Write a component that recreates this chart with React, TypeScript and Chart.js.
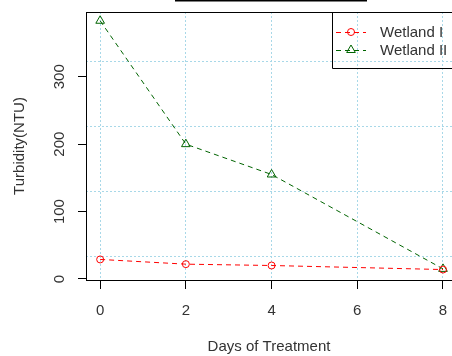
import React, { useEffect, useRef } from 'react';
import { Chart, registerables } from 'chart.js';

Chart.register(...registerables);

const days = [0, 2, 4, 8];
const wetland1 = [29, 22, 20, 14];
const wetland2 = [383, 200, 155, 15];
const seriesLabels = ['Wetland I', 'Wetland II'];
const xTicks = [0, 2, 4, 6, 8];
const yTicks = [0, 100, 200, 300];
const yGrid = [34, 130, 226, 322];
const xTitle = 'Days of Treatment';
const yTitle = 'Turbidity(NTU)';

const FONT = '"Liberation Sans", Arial, Helvetica, sans-serif';
const TEXT = '#333333';
const RED = '#ff0000';
const GREEN = '#006400';
const GRID = '#a8d8e8';

const framePlugin = {
  id: 'rframe',
  afterDraw(chart: any) {
    const { ctx, chartArea } = chart;
    ctx.save();
    // top frame line
    ctx.strokeStyle = '#000';
    ctx.lineWidth = 1;
    ctx.beginPath();
    ctx.moveTo(chartArea.left, chartArea.top + 0.5);
    ctx.lineTo(chart.width + 5, chartArea.top + 0.5);
    ctx.stroke();
    // cut-off title box edge
    ctx.fillStyle = '#000';
    ctx.fillRect(175, 0, 192, 1.5);

    // legend
    const left = 332;
    const top = chartArea.top;
    const h = 56;
    ctx.beginPath();
    ctx.moveTo(left + 0.5, top);
    ctx.lineTo(left + 0.5, top + h + 0.5);
    ctx.lineTo(chart.width + 5, top + h + 0.5);
    ctx.stroke();
    chart.data.datasets.forEach((ds: any, i: number) => {
      const y = top + 20 + i * 18;
      ctx.strokeStyle = ds.borderColor;
      ctx.lineWidth = 1;
      ctx.setLineDash([5, 4]);
      ctx.beginPath();
      ctx.moveTo(left + 4, y + 0.5);
      ctx.lineTo(left + 34, y + 0.5);
      ctx.stroke();
      ctx.setLineDash([]);
      const cx = left + 19;
      ctx.beginPath();
      if (ds.pointStyle === 'triangle') {
        const r = 5;
        ctx.moveTo(cx, y - r);
        ctx.lineTo(cx + r * 0.866, y + r * 0.5);
        ctx.lineTo(cx - r * 0.866, y + r * 0.5);
        ctx.closePath();
      } else {
        ctx.arc(cx, y, 3.5, 0, Math.PI * 2);
      }
      ctx.stroke();
      ctx.fillStyle = TEXT;
      ctx.font = `15px ${FONT}`;
      ctx.textAlign = 'left';
      ctx.textBaseline = 'middle';
      ctx.fillText(ds.label, left + 48, y + 1);
    });
    ctx.restore();
  },
};

export default function App() {
  const ref = useRef<HTMLCanvasElement>(null);
  useEffect(() => {
    if (!ref.current) return;
    const chart = new Chart(ref.current, {
      type: 'line',
      data: {
        datasets: [
          {
            label: seriesLabels[0],
            data: days.map((d, i) => ({ x: d, y: wetland1[i] })),
            borderColor: RED,
            backgroundColor: 'transparent',
            borderWidth: 1,
            borderDash: [5, 4],
            pointStyle: 'circle',
            pointRadius: 3.5,
            pointBorderWidth: 1,
            pointBorderColor: RED,
            pointBackgroundColor: 'transparent',
            tension: 0,
          },
          {
            label: seriesLabels[1],
            data: days.map((d, i) => ({ x: d, y: wetland2[i] })),
            borderColor: GREEN,
            backgroundColor: 'transparent',
            borderWidth: 1,
            borderDash: [5, 4],
            pointStyle: 'triangle',
            pointRadius: 5,
            pointBorderWidth: 1,
            pointBorderColor: GREEN,
            pointBackgroundColor: 'transparent',
            tension: 0,
          },
        ],
      },
      options: {
        animation: false,
        responsive: false,
        devicePixelRatio: 1,
        layout: { autoPadding: false, padding: { top: 12, left: 0, right: 0, bottom: 0 } },
        plugins: { legend: { display: false }, tooltip: { enabled: false } },
        scales: {
          x: {
            type: 'linear',
            min: -0.33,
            max: 8.21,
            afterBuildTicks: (s: any) => {
              s.ticks = xTicks.map((v) => ({ value: v }));
            },
            afterFit: (s: any) => {
              s.height = 76;
              s.paddingLeft = 0;
              s.paddingRight = 0;
            },
            grid: {
              color: GRID,
              lineWidth: 1,
              drawOnChartArea: true,
              drawTicks: true,
              tickLength: 9,
              tickColor: '#000',
              tickWidth: 1,
              tickBorderDash: [],
            },
            border: { display: true, color: '#000', width: 1, dash: [2, 2] },
            ticks: {
              color: TEXT,
              font: { family: FONT, size: 15 },
              padding: 13,
              maxRotation: 0,
              autoSkip: false,
            },
            title: {
              display: true,
              text: xTitle,
              color: TEXT,
              font: { family: FONT, size: 15 },
              padding: { top: 0, bottom: 0 },
            },
          },
          y: {
            type: 'linear',
            position: 'left',
            min: -1.5,
            max: 396,
            afterBuildTicks: (s: any) => {
              s.ticks = yTicks.map((v) => ({ value: v }));
            },
            afterFit: (s: any) => {
              s.width = 86;
              s.paddingTop = 0;
              s.paddingBottom = 0;
            },
            grid: {
              drawOnChartArea: false,
              drawTicks: true,
              tickLength: 8,
              tickColor: '#000',
              tickWidth: 1,
            },
            border: { display: true, color: '#000', width: 1 },
            ticks: {
              color: TEXT,
              font: { family: FONT, size: 15 },
              padding: 6,
              minRotation: 90,
              maxRotation: 90,
              crossAlign: 'center',
              autoSkip: false,
            },
            title: {
              display: true,
              text: yTitle,
              color: TEXT,
              font: { family: FONT, size: 15 },
              padding: { top: 11, bottom: 0 },
            },
          },
          y2: {
            type: 'linear',
            position: 'left',
            min: -1.5,
            max: 396,
            afterBuildTicks: (s: any) => {
              s.ticks = yGrid.map((v) => ({ value: v }));
            },
            afterFit: (s: any) => {
              s.width = 0;
              s.paddingTop = 0;
              s.paddingBottom = 0;
            },
            grid: { color: GRID, lineWidth: 1, drawTicks: false, drawOnChartArea: true },
            border: { display: false, dash: [2, 2] },
            ticks: { display: false },
          },
        },
      },
      plugins: [framePlugin],
    } as any);
    return () => chart.destroy();
  }, []);
  return (
    <div style={{ position: 'absolute', left: 0, top: 0, width: 452, height: 356, background: '#fff' }}>
      <canvas ref={ref} width={452} height={356} style={{ display: 'block', width: 452, height: 356 }} />
    </div>
  );
}
